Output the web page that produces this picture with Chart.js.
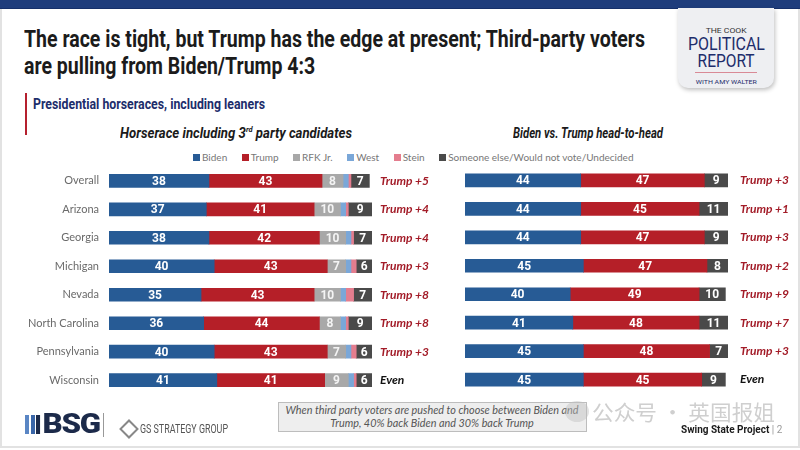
<!DOCTYPE html>
<html>
<head>
<meta charset="utf-8">
<script src="https://cdn.jsdelivr.net/npm/chart.js@4.4.1/dist/chart.umd.min.js"></script>
<style>
  body { margin: 0; width: 800px; height: 450px; overflow: hidden; background: #fff; font-family: Lato, "Open Sans", sans-serif; }
  #page { position: absolute; left: 0; top: 0; width: 796px; height: 446px; border: 2px solid #e2e2e2; border-top: none; }
  #topband { position: absolute; left: 0; top: 0; width: 800px; height: 8px; background: #1f3d7c; border-bottom: 1px solid #16306a; }
  .abs { position: absolute; white-space: nowrap; }
  .fit { transform-origin: left center; }
  #title { left: 24px; top: 26px; font-family: Roboto, sans-serif; font-weight: bold; font-size: 23px; line-height: 27px; color: #1b1b1b; }
  #logo { left: 678px; top: 8px; width: 96px; height: 80px; background: #eeeff2; border-radius: 0 0 10px 10px; box-shadow: 1px 2px 4px rgba(0,0,0,0.25); text-align: center; font-family: Roboto, sans-serif; color: #1d2d6b; }
  #logo div { display: block; }
  #logo span { display: inline-block; transform-origin: center center; }
  #sub { left: 33px; top: 96px; font-family: Roboto, sans-serif; font-weight: bold; font-size: 14px; color: #1d2d6b; }
  #redline { left: 25px; top: 93px; width: 2px; height: 42px; background: #b5202e; }
  .ctitle { top: 125px; font-family: Roboto, sans-serif; font-weight: bold; font-style: italic; font-size: 14px; color: #1b1b1b; }
  #legend { left: 193px; top: 151px; font-size: 10px; color: #777; }
  #legend span.sw { display: inline-block; width: 7px; height: 7px; margin-right: 2px; vertical-align: 0px; }
  #legend span.it { margin-right: 14.5px; }
  #note { left: 278px; top: 402px; width: 309px; height: 30px; background: #eeeeee; border: 1px solid #bdbdbd; box-sizing: border-box; display: flex; justify-content: center; align-items: center; }
  #note span { display: inline-block; text-align: center; font-style: italic; font-size: 10.5px; color: #555; line-height: 13px; transform-origin: center center; }
</style>
</head>
<body>
<div id="page"></div>
<div id="topband"></div>
<div id="title" class="abs fit" data-w="621">The race is tight, but Trump has the edge at present; Third-party voters<br>are pulling from Biden/Trump 4:3</div>
<div id="logo" class="abs">
  <div style="margin-top:15px;line-height:9px;"><span data-w="41" style="font-size:8px;color:#333;">THE COOK</span></div>
  <div style="line-height:17px;"><span data-w="77" style="font-size:18px;">POLITICAL</span></div>
  <div style="line-height:16px;"><span data-w="57" style="font-size:18px;">REPORT</span></div>
  <div style="width:62px;height:1px;background:#d98a96;margin:2px auto 2px;"></div>
  <div style="line-height:8px;"><span data-w="61" style="font-size:6px;">WITH AMY WALTER</span></div>
</div>
<div id="redline" class="abs"></div>
<div id="sub" class="abs fit" data-w="232">Presidential horseraces, including leaners</div>
<div class="abs ctitle fit" data-w="232" style="left:120px;">Horserace including 3<sup style="font-size:8px;line-height:0;">rd</sup> party candidates</div>
<div class="abs ctitle fit" data-w="150" style="left:513px;">Biden vs. Trump head-to-head</div>
<div id="legend" class="abs"></div>

<canvas id="left" width="450" height="261" style="position:absolute;left:0;top:150px;"></canvas>
<canvas id="right" width="350" height="266" style="position:absolute;left:450px;top:147px;"></canvas>

<div id="note" class="abs"><span data-w="293">When third party voters are pushed to choose between Biden and<br>Trump, 40% back Biden and 30% back Trump</span></div>

<div class="abs fit" data-w="75" style="left:25px;top:408px;font-family:Roboto,sans-serif;font-weight:900;font-size:27px;color:#1c2a4a;letter-spacing:-1px;"><span style="display:inline-block;width:13px;height:19px;background:linear-gradient(90deg,#5a86c4 0 28%,#fff 28% 38%,#3a66a8 38% 66%,#fff 66% 76%,#1c2a4a 76%);margin-right:2px;vertical-align:-1px;"></span>BSG</div>
<div class="abs" style="left:103px;top:413px;width:1px;height:24px;background:#999;"></div>
<div class="abs" style="left:122px;top:422px;width:10px;height:10px;border:2px solid #888;transform:rotate(45deg);"></div>
<div class="abs fit" data-w="88" style="left:140px;top:422px;font-family:Roboto,sans-serif;font-size:12px;color:#555;">GS STRATEGY GROUP</div>
<div class="abs" style="left:565px;top:401px;width:24px;height:21px;border-radius:50%;background:rgba(190,190,190,0.45);"></div>
<div class="abs fit" data-w="183" style="left:592px;top:396px;font-family:'Noto Sans CJK SC',sans-serif;font-size:21px;color:#cfcfcf;">公众号 · 英国报姐</div>
<div class="abs" style="left:681px;top:424px;font-family:Roboto,sans-serif;font-weight:bold;font-size:10px;color:#1b1b1b;">Swing State Project <span style="color:#999;font-weight:normal;">| 2</span></div>

<script>
// categories
const states = ['Overall', 'Arizona', 'Georgia', 'Michigan', 'Nevada', 'North Carolina', 'Pennsylvania', 'Wisconsin'];

// horserace with 3rd party candidates
const biden3 = [38, 37, 38, 40, 35, 36, 40, 41];
const trump3 = [43, 41, 42, 43, 43, 44, 43, 41];
const rfk3 = [8, 10, 10, 7, 10, 8, 7, 9];
const west3 = [2, 2, 2, 2, 2, 2, 2, 2];
const stein3 = [1, 1, 1, 2, 3, 1, 2, 1];
const other3 = [7, 9, 7, 6, 7, 9, 6, 6];
const lead3 = ['Trump +5', 'Trump +4', 'Trump +4', 'Trump +3', 'Trump +8', 'Trump +8', 'Trump +3', 'Even'];

// head-to-head
const biden2 = [44, 44, 44, 45, 40, 41, 45, 45];
const trump2 = [47, 45, 47, 47, 49, 48, 48, 45];
const other2 = [9, 11, 9, 8, 10, 11, 7, 9];
const lead2 = ['Trump +3', 'Trump +1', 'Trump +3', 'Trump +2', 'Trump +9', 'Trump +7', 'Trump +3', 'Even'];

const colors = {
  Biden: '#275b95',
  Trump: '#b51f28',
  'RFK Jr.': '#a8a8a8',
  West: '#7aa7d8',
  Stein: '#e47d8e',
  'Someone else/Would not vote/Undecided': '#4a4a4a'
};

// squeeze text blocks to the width they have in the slide
document.querySelectorAll('[data-w]').forEach(el => {
  const w = el.getBoundingClientRect().width;
  el.style.transform = `scaleX(${el.dataset.w / w})`;
});

// legend
const legendEl = document.getElementById('legend');
Object.keys(colors).forEach(name => {
  const item = document.createElement('span');
  item.className = 'it';
  item.innerHTML = `<span class="sw" style="background:${colors[name]}"></span>${name}`;
  legendEl.appendChild(item);
});

// numbers inside the bar segments
const segLabels = {
  id: 'segLabels',
  afterDatasetsDraw(chart) {
    const ctx = chart.ctx;
    ctx.save();
    ctx.font = 'bold 12px Roboto, sans-serif';
    ctx.textAlign = 'center';
    ctx.textBaseline = 'middle';
    chart.data.datasets.forEach((ds, i) => {
      if (!ds.showLabel) return;
      const meta = chart.getDatasetMeta(i);
      ctx.fillStyle = ds.labelColor || '#fff';
      meta.data.forEach((bar, j) => {
        ctx.fillText(ds.data[j], (bar.x + bar.base) / 2, bar.y + 1);
      });
    });
    ctx.restore();
  }
};

function ds(label, data, showLabel, labelColor) {
  return {
    label: label,
    data: data,
    backgroundColor: colors[label],
    borderWidth: 0,
    barThickness: 13,
    showLabel: showLabel,
    labelColor: labelColor
  };
}

function makeChart(id, datasets, leads, leftWidth, rightWidth, showStates, leadPad) {
  return new Chart(document.getElementById(id), {
    type: 'bar',
    data: { labels: states, datasets: datasets },
    plugins: [segLabels],
    options: {
      indexAxis: 'y',
      responsive: false,
      devicePixelRatio: 1,
      animation: false,
      layout: { padding: 0, autoPadding: false },
      plugins: { legend: { display: false }, tooltip: { enabled: false } },
      scales: {
        x: { stacked: true, min: 0, max: 100, display: false },
        y: {
          stacked: true,
          grid: { display: false, drawTicks: false },
          border: { display: false },
          ticks: {
            display: showStates,
            color: '#6a6a6a',
            padding: 10,
            font: { family: 'Lato', size: 11 }
          },
          afterFit(scale) { scale.width = leftWidth; }
        },
        y2: {
          type: 'category',
          position: 'right',
          labels: leads,
          offset: true,
          grid: { display: false, drawTicks: false },
          border: { display: false },
          ticks: {
            padding: leadPad,
            color: c => (leads[c.index] === 'Even' ? '#111' : '#a31c28'),
            font: { family: 'Lato', size: 12, weight: 'bold', style: 'italic' }
          },
          afterFit(scale) { scale.width = rightWidth; }
        }
      }
    }
  });
}

makeChart('left', [
  ds('Biden', biden3, true),
  ds('Trump', trump3, true),
  ds('RFK Jr.', rfk3, true, '#f4f4f4'),
  ds('West', west3, false),
  ds('Stein', stein3, false),
  ds('Someone else/Would not vote/Undecided', other3, true)
], lead3, 109, 78, true, 8);

makeChart('right', [
  ds('Biden', biden2, true),
  ds('Trump', trump2, true),
  ds('Someone else/Would not vote/Undecided', other2, true)
], lead2, 15, 72, false, 12);
</script>
</body>
</html>
